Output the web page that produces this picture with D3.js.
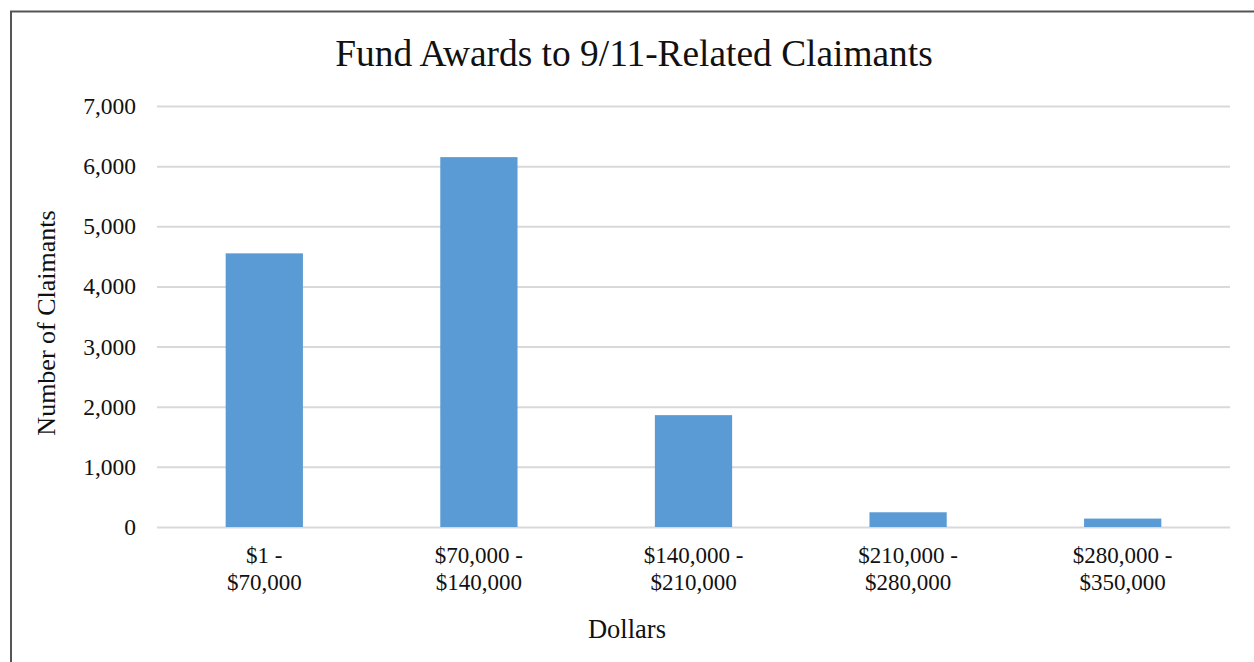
<!DOCTYPE html>
<html><head><meta charset="utf-8">
<script src="https://cdn.jsdelivr.net/npm/d3@7"></script>
<style>body{margin:0;background:#fff}svg{display:block}text{font-family:"Liberation Serif","Times New Roman",serif;fill:#111}</style>
</head><body>
<svg id="c" width="1254" height="662"></svg>
<script>
const categories = [["$1 -","$70,000"],["$70,000 -","$140,000"],["$140,000 -","$210,000"],["$210,000 -","$280,000"],["$280,000 -","$350,000"]];
const values = [4550, 6150, 1860, 245, 140];
const yTicks = [0,1000,2000,3000,4000,5000,6000,7000];
const title = "Fund Awards to 9/11-Related Claimants";
const yTitle = "Number of Claimants";
const xTitle = "Dollars";

const svg = d3.select("#c");
svg.append("rect").attr("x",11).attr("y",11.5).attr("width",1300).attr("height",700)
  .attr("fill","none").attr("stroke","#555").attr("stroke-width",2);

const m = {l:157, r:1230, t:106, b:527};
const x = d3.scaleBand().domain(d3.range(categories.length)).range([m.l,m.r]).paddingInner(0.64).paddingOuter(0.32);
const y = d3.scaleLinear().domain([0,7000]).range([m.b,m.t]);

const yAxis = d3.axisLeft(y).tickValues(yTicks).tickSize(-(m.r-m.l)).tickPadding(21).tickFormat(d3.format(","));
const gy = svg.append("g").attr("transform",`translate(${m.l},0)`).call(yAxis);
gy.select(".domain").remove();
gy.selectAll(".tick line").attr("stroke","#d9d9d9").attr("stroke-width",2);
gy.selectAll(".tick text").style("font-size","23.5px").style("font-family","Liberation Serif").attr("fill","#111");

svg.append("g").selectAll("rect").data(values).join("rect")
  .attr("x",(d,i)=>x(i)).attr("width",x.bandwidth())
  .attr("y",d=>y(d)).attr("height",d=>y(0)-y(d)).attr("fill","#5b9bd5");

const xAxis = d3.axisBottom(x).tickSize(0).tickFormat(()=> "");
const gx = svg.append("g").attr("transform",`translate(0,${m.b})`).call(xAxis);
gx.select(".domain").remove();
gx.selectAll(".tick").each(function(i){
  const t = d3.select(this).append("text").attr("text-anchor","middle").style("font-size","23px");
  categories[i].forEach((s,k)=>t.append("tspan").attr("x",0).attr("y",36+k*27).text(s));
});

svg.append("text").attr("x",634).attr("y",66).attr("text-anchor","middle").style("font-size","37.4px").text(title);
svg.append("text").attr("transform","translate(55,323) rotate(-90)").attr("text-anchor","middle").style("font-size","26px").text(yTitle);
svg.append("text").attr("x",627).attr("y",638).attr("text-anchor","middle").style("font-size","26.5px").text(xTitle);
</script>
</body></html>
